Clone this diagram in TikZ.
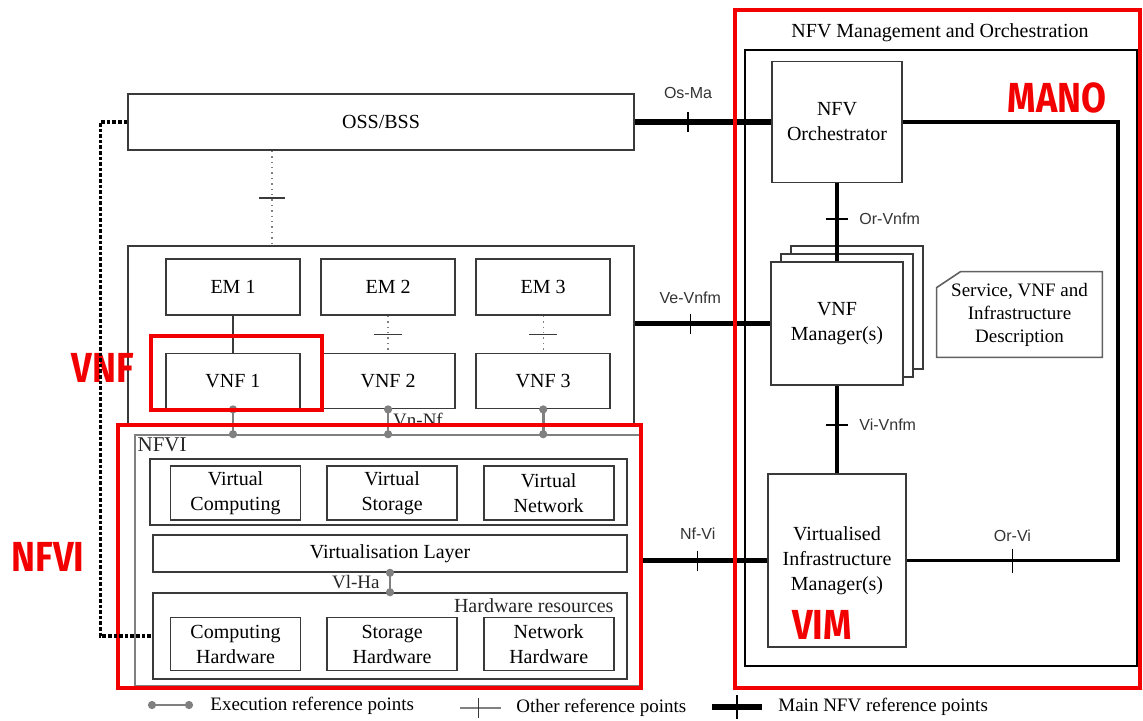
\documentclass[tikz,border=0pt]{standalone}
\usepackage{fontspec}
\setmainfont{Liberation Serif}
\newfontfamily\reffont{Liberation Sans}
\newfontfamily\tagfont[FakeStretch=0.86]{Fira Sans}
\usetikzlibrary{arrows.meta, positioning, calc, shadows}
\definecolor{nfvLine}{HTML}{3A3A3A}
\definecolor{nfvGrey}{HTML}{808080}
\definecolor{nfvRed}{HTML}{F20000}
\tikzset{
  nfvbox/.style={
    draw=nfvLine, line width=0.8pt, fill=white, align=center,
    font=\fontsize{10}{12.5}\selectfont, inner sep=1pt
  },
  unitbox/.style={nfvbox, minimum width=67pt, minimum height=27.5pt},
  resbox/.style={nfvbox, minimum width=65pt, minimum height=26.5pt},
  layerbox/.style={nfvbox, minimum width=237pt},
  groupbox/.style={draw=nfvLine, line width=0.8pt},
  mainref/.style={line width=2.6pt, black},
  midref/.style={line width=1.6pt, black},
  otherref/.style={line width=0.7pt, nfvGrey, dotted},
  emlink/.style={line width=0.7pt, nfvLine},
  execref/.style={
    line width=1.3pt, nfvGrey, {Circle[length=4pt]}-{Circle[length=4pt]},
    shorten <=-2pt, shorten >=-2pt
  },
  reftick/.style={line width=0.8pt, black},
  othertick/.style={line width=0.7pt, nfvLine},
  reflabel/.style={font=\reffont\fontsize{8}{9}\selectfont, text=black!80, inner sep=1pt},
  seriflabel/.style={font=\fontsize{9.5}{11}\selectfont, text=black!85, inner sep=1pt},
  redframe/.style={draw=nfvRed, line width=2.2pt},
  redtag/.style={font=\tagfont\bfseries\fontsize{21}{22}\selectfont, text=nfvRed, inner sep=0pt},
  legendtext/.style={font=\fontsize{9.5}{11}\selectfont, anchor=west, inner sep=0pt},
  sidelink/.style={line width=1.7pt, black, dash pattern=on 1.8pt off 1pt}
}

\begin{document}
\begin{tikzpicture}[x=0.5pt, y=-0.5pt]
  \useasboundingbox (0,0) rectangle (1143,720);

  % OSS/BSS and the VNF layer
  \node[nfvbox, minimum width=253pt, minimum height=28pt] (oss) at (381,122) {OSS/BSS};
  \node[groupbox, minimum width=253pt, minimum height=90pt] (vnflayer) at (381,336) {};
  \node[unitbox, minimum height=28pt] (em1) at (233,287) {EM 1};
  \node[unitbox, minimum height=28pt, right=9.75pt of em1] (em2) {EM 2};
  \node[unitbox, minimum height=28pt, right=9.75pt of em2] (em3) {EM 3};
  \node[unitbox, below=18.5pt of em1] (vnf1) {VNF 1};
  \node[unitbox, below=18.5pt of em2] (vnf2) {VNF 2};
  \node[unitbox, below=18.5pt of em3] (vnf3) {VNF 3};

  % NFVI
  \node[groupbox, draw=nfvGrey, minimum width=252.5pt, minimum height=125.5pt] (nfvi) at (387.5,560.5) {};
  \node[seriflabel, font=\fontsize{10.5}{12}\selectfont, anchor=north west] (nfvilbl) at ([xshift=0.5pt,yshift=-0.5pt]nfvi.north west) {NFVI};
  \node[groupbox, minimum width=238.5pt, minimum height=33pt] (vgroup) at (388.5,492) {};
  \node[resbox, minimum height=27pt] (vcomp) at (235.5,493) {Virtual\\Computing};
  \node[resbox, minimum height=27pt, right=12.5pt of vcomp] (vstor) {Virtual\\Storage};
  \node[resbox, minimum height=27pt, right=12.5pt of vstor] (vnet) {Virtual\\Network};
  \node[layerbox, minimum height=18.5pt] (vlayer) at (390,553.5) {Virtualisation Layer};
  \node[layerbox, minimum height=43pt] (hwres) at (390,636) {};
  \node[seriflabel, font=\fontsize{10}{12}\selectfont, anchor=north east] (hwlbl) at ([xshift=-6pt,yshift=-2pt]hwres.north east) {Hardware resources};
  \node[resbox] (chw) at (235.5,644) {Computing\\Hardware};
  \node[resbox, right=12.5pt of chw] (shw) {Storage\\Hardware};
  \node[resbox, right=12.5pt of shw] (nhw) {Network\\Hardware};

  % NFV management and orchestration
  \node[font=\fontsize{10}{12}\selectfont, inner sep=0pt] (manotitle) at (940,33) {NFV Management and Orchestration};
  \node[groupbox, draw=black, minimum width=196pt, minimum height=308pt] (manobox) at (941,358) {};
  \node[nfvbox, minimum width=65pt, minimum height=60.5pt] (nfvo) at (837,122) {NFV\\Orchestrator};
  \node[nfvbox, minimum width=66pt, minimum height=61.5pt,
        copy shadow={shadow xshift=10pt, shadow yshift=8pt, draw=nfvLine, line width=0.8pt},
        copy shadow={shadow xshift=5pt, shadow yshift=4pt, draw=nfvLine, line width=0.8pt}] (vnfm) at (837,323.5) {VNF\\Manager(s)};
  \node[nfvbox, minimum width=69pt, minimum height=86.5pt] (vim) at (837,560.5) {Virtualised\\Infrastructure\\Manager(s)};
  \node[font=\fontsize{9.5}{11.5}\selectfont, align=center, minimum width=82.5pt, minimum height=42.5pt, inner sep=0pt] (descr) at (1019.5,314.5) {Service, VNF and\\Infrastructure\\Description};
  \draw[groupbox, draw=nfvLine!80] ([yshift=-8pt]descr.north west) -- ([xshift=12pt]descr.north west) -- (descr.north east) -- (descr.south east) -- (descr.south west) -- cycle;

  % reference points
  \coordinate (ossdrop) at ([xshift=-54.5pt]oss.south);
  \draw[otherref] (ossdrop) -- coordinate[midway] (ossvnf) (ossdrop |- vnflayer.north);
  \draw[othertick] ([xshift=-6.5pt]ossvnf) -- ([xshift=6.5pt]ossvnf);
  \draw[emlink] (em1) -- (vnf1);
  \draw[otherref] (em2) -- coordinate[midway] (em2vnf) (vnf2);
  \draw[otherref] (em3) -- coordinate[midway] (em3vnf) (vnf3);
  \foreach \t in {em2vnf, em3vnf}
    \draw[othertick] ([xshift=-7pt]\t) -- ([xshift=7pt]\t);
  \foreach \v in {vnf1, vnf2, vnf3}
    \draw[execref] (\v.south) -- (\v.south |- nfvi.north);
  \node[seriflabel] (vnnf) at (418,420) {Vn-Nf};
  \draw[execref] (vlayer.south) -- coordinate[midway] (vlha) (hwres.north);
  \node[seriflabel, anchor=east] (vlhalbl) at ([xshift=-4pt]vlha) {Vl-Ha};

  \draw[mainref] (oss.east) -- coordinate[pos=0.39] (osma) (nfvo.west);
  \draw[mainref] (vnflayer.east |- vnfm.west) -- coordinate[pos=0.41] (vevnfm) (vnfm.west);
  \draw[mainref] (nfvi.east |- vim.west) -- coordinate[pos=0.45] (nfvivi) (vim.west);
  \draw[midref] (nfvo) -- coordinate[pos=0.46] (orvnfm) (vnfm);
  \draw[midref] (vnfm) -- coordinate[pos=0.45] (vivnfm) (vim);
  \coordinate (orrail) at (1118,340);
  \draw[midref] (nfvo.east) -| (orrail) |- coordinate[pos=0.75] (orvi) (vim.east);
  \foreach \t in {osma, vevnfm, nfvivi}
    \draw[reftick] ([yshift=5pt]\t) -- ([yshift=-5pt]\t);
  \draw[reftick] ([yshift=6pt]orvi) -- ([yshift=-6pt]orvi);
  \foreach \t in {orvnfm, vivnfm}
    \draw[reftick] ([xshift=-5.5pt]\t) -- ([xshift=5.5pt]\t);
  \node[reflabel] (osmalbl) at ([yshift=14.5pt]osma) {Os-Ma};
  \node[reflabel] (vevnfmlbl) at ([yshift=13pt]vevnfm) {Ve-Vnfm};
  \node[reflabel] (nfvivilbl) at ([yshift=13.5pt]nfvivi) {Nf-Vi};
  \node[reflabel] (orvilbl) at ([yshift=12.5pt]orvi) {Or-Vi};
  \node[reflabel, anchor=west] (orvnfmlbl) at ([xshift=10pt]orvnfm) {Or-Vnfm};
  \node[reflabel, anchor=west] (vivnfmlbl) at ([xshift=10pt]vivnfm) {Vi-Vnfm};

  % highlighted blocks
  \draw[redframe] (151,336) rectangle (322,410);
  \draw[redframe] (118,425) rectangle (641,688);
  \draw[redframe] (735,10) rectangle (1140,688);
  \node[redtag] (vnftag) at (103,368) {VNF};
  \node[redtag] (nfvitag) at (48,557) {NFVI};
  \node[redtag] (manotag) at (1057,98) {MANO};
  \node[redtag] (vimtag) at (822,625) {VIM};

  \draw[sidelink] (oss.west) -- ++(-27,0) |- (hwres.west);

  % legend
  \coordinate (lgexA) at (152,705);
  \coordinate (lgexB) at (189,705);
  \draw[execref] (lgexA) -- (lgexB);
  \node[legendtext] (lgex) at (210,706) {Execution reference points};
  \coordinate (lgotA) at (460,708);
  \coordinate (lgotB) at (501,708);
  \draw[line width=0.7pt, nfvGrey] (lgotA) -- coordinate[pos=0.45] (lgotT) (lgotB);
  \draw[othertick] ([yshift=5pt]lgotT) -- ([yshift=-5pt]lgotT);
  \node[legendtext] (lgot) at (516,708) {Other reference points};
  \coordinate (lgmnA) at (712,707);
  \coordinate (lgmnB) at (762,707);
  \draw[mainref] (lgmnA) -- coordinate[midway] (lgmnT) (lgmnB);
  \draw[reftick, line width=1pt] ([yshift=6pt]lgmnT) -- ([yshift=-6pt]lgmnT);
  \node[legendtext] (lgmn) at (778,707) {Main NFV reference points};
\end{tikzpicture}
\end{document}
